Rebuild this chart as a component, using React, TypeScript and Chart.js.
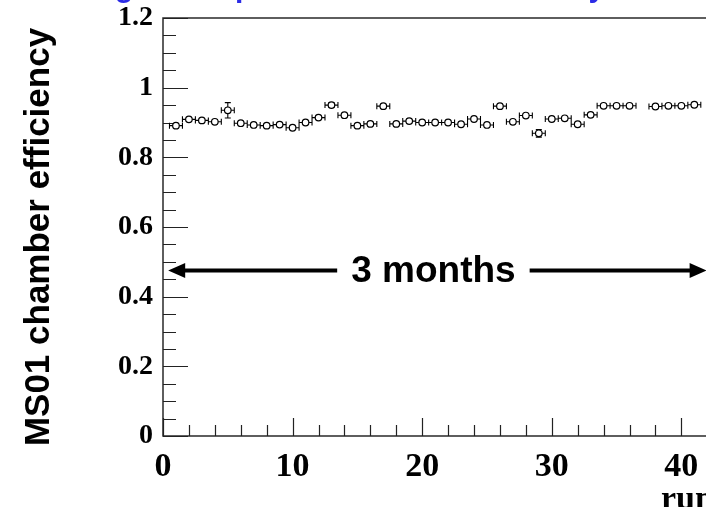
import React, { useEffect, useRef } from "react";
import { Chart, registerables } from "chart.js";

Chart.register(...registerables);

// ---- data ----
const runs = [
  1, 2, 3, 4, 5, 6, 7, 8, 9, 10,
  11, 12, 13, 14, 15, 16, 17, 18, 19, 20,
  21, 22, 23, 24, 25, 26, 27, 28, 29, 30,
  31, 32, 33, 34, 35, 36, 38, 39, 40, 41,
];
const efficiency = [
  0.891, 0.909, 0.906, 0.902, 0.935, 0.898, 0.893, 0.891, 0.894, 0.885,
  0.900, 0.914, 0.950, 0.921, 0.891, 0.896, 0.947, 0.896, 0.904, 0.900,
  0.900, 0.900, 0.895, 0.910, 0.893, 0.947, 0.902, 0.920, 0.869, 0.910,
  0.912, 0.895, 0.922, 0.948, 0.948, 0.948, 0.946, 0.948, 0.948, 0.951,
];
const efficiencyError = [
  0.005, 0.005, 0.005, 0.005, 0.022, 0.005, 0.005, 0.005, 0.005, 0.005,
  0.005, 0.005, 0.007, 0.005, 0.005, 0.005, 0.005, 0.005, 0.005, 0.005,
  0.005, 0.005, 0.005, 0.005, 0.005, 0.005, 0.005, 0.005, 0.011, 0.005,
  0.005, 0.005, 0.005, 0.005, 0.005, 0.005, 0.005, 0.005, 0.005, 0.005,
];
const runHalfWidth = 0.5;

const xTickValues = [0, 10, 20, 30, 40];
const yTickValues = [0, 0.2, 0.4, 0.6, 0.8, 1.0, 1.2];
const xRange = [0, 41.5];
const yRange = [0, 1.2];

const titleText = "Long-term operation: stable efficiency";
const yTitle = "MS01 chamber efficiency";
const xTitle = "run";
const spanLabel = "3 months";
const spanFrom = 0.4;
const spanTo = 41.95;
const spanLevel = 0.475;

const W = 706;
const H = 507;

const decorPlugin = {
  id: "decor",
  beforeDatasetsDraw(chart: any) {
    const { ctx, chartArea: a, scales } = chart;
    const xs = scales.x;
    const ys = scales.y;
    ctx.save();
    // frame
    ctx.strokeStyle = "#2a2a2a";
    ctx.lineWidth = 1.5;
    ctx.beginPath();
    ctx.moveTo(W + 2, a.top);
    ctx.lineTo(a.left, a.top);
    ctx.lineTo(a.left, a.bottom);
    ctx.lineTo(W + 2, a.bottom);
    ctx.stroke();

    // ticks
    ctx.lineWidth = 1.2;
    ctx.strokeStyle = "#222";
    ctx.beginPath();
    for (let v = 0; v <= xRange[1] + 1e-9; v += 2) {
      const px = Math.round(xs.getPixelForValue(v)) + 0.5;
      const len = Math.abs(v % 10) < 1e-9 ? 18 : 11;
      ctx.moveTo(px, a.bottom);
      ctx.lineTo(px, a.bottom - len);
    }
    for (let k = 0; k <= 24; k++) {
      const v = k * 0.05;
      const py = Math.round(ys.getPixelForValue(v)) + 0.5;
      const len = k % 4 === 0 ? 25 : 13;
      ctx.moveTo(a.left, py);
      ctx.lineTo(a.left + len, py);
    }
    ctx.stroke();

    // error bars
    ctx.strokeStyle = "#000";
    ctx.lineWidth = 1.1;
    const cap = 3;
    ctx.beginPath();
    runs.forEach((r, i) => {
      const x0 = xs.getPixelForValue(r - runHalfWidth);
      const x1 = xs.getPixelForValue(r + runHalfWidth);
      const px = xs.getPixelForValue(r);
      const py = ys.getPixelForValue(efficiency[i]);
      ctx.moveTo(x0, py);
      ctx.lineTo(x1, py);
      ctx.moveTo(x0, py - cap);
      ctx.lineTo(x0, py + cap);
      ctx.moveTo(x1, py - cap);
      ctx.lineTo(x1, py + cap);
      const yTop = ys.getPixelForValue(efficiency[i] + efficiencyError[i]);
      const yBot = ys.getPixelForValue(efficiency[i] - efficiencyError[i]);
      ctx.moveTo(px, yTop);
      ctx.lineTo(px, yBot);
      ctx.moveTo(px - cap, yTop);
      ctx.lineTo(px + cap, yTop);
      ctx.moveTo(px - cap, yBot);
      ctx.lineTo(px + cap, yBot);
    });
    ctx.stroke();
    ctx.restore();
  },
  afterDraw(chart: any) {
    const { ctx, scales } = chart;
    const xs = scales.x;
    const ys = scales.y;
    ctx.save();

    // span arrow with label
    const ay = ys.getPixelForValue(spanLevel);
    const xl = xs.getPixelForValue(spanFrom);
    const xr = xs.getPixelForValue(spanTo);
    const xc = (xl + xr) / 2 - 4;
    ctx.font = "bold 37px 'Liberation Sans', Arial, sans-serif";
    const tw = ctx.measureText(spanLabel).width;
    ctx.fillStyle = "#000";
    ctx.textAlign = "center";
    ctx.textBaseline = "alphabetic";
    ctx.fillText(spanLabel, xc, ay + 11);
    const gap = 14;
    const head = 17;
    const hh = 7.5;
    ctx.strokeStyle = "#000";
    ctx.lineWidth = 4;
    ctx.beginPath();
    ctx.moveTo(xl + head - 2, ay);
    ctx.lineTo(xc - tw / 2 - gap, ay);
    ctx.moveTo(xc + tw / 2 + gap, ay);
    ctx.lineTo(xr - head + 2, ay);
    ctx.stroke();
    ctx.beginPath();
    ctx.moveTo(xl, ay);
    ctx.lineTo(xl + head, ay - hh);
    ctx.lineTo(xl + head, ay + hh);
    ctx.closePath();
    ctx.moveTo(xr, ay);
    ctx.lineTo(xr - head, ay - hh);
    ctx.lineTo(xr - head, ay + hh);
    ctx.closePath();
    ctx.fill();

    // y-axis title
    ctx.save();
    ctx.translate(49, 237);
    ctx.rotate(-Math.PI / 2);
    ctx.font = "bold 35px 'Liberation Sans', Arial, sans-serif";
    ctx.textAlign = "center";
    ctx.textBaseline = "alphabetic";
    ctx.fillStyle = "#000";
    ctx.fillText(yTitle, 0, 0);
    ctx.restore();

    // x-axis title (cut by the page edge)
    ctx.font = "bold 34px 'Liberation Serif', 'Times New Roman', serif";
    ctx.textAlign = "left";
    ctx.textBaseline = "alphabetic";
    ctx.fillStyle = "#000";
    ctx.fillText(xTitle, 661, 509);

    // slide title (mostly above the page, only descenders visible)
    ctx.font = "bold 30px 'Liberation Sans', Arial, sans-serif";
    ctx.fillStyle = "#2b2be6";
    ctx.textAlign = "left";
    ctx.textBaseline = "alphabetic";
    ctx.fillText(titleText, 60, -3);

    ctx.restore();
  },
};

export default function App() {
  const ref = useRef<HTMLCanvasElement | null>(null);

  useEffect(() => {
    document.body.style.margin = "0";
    const canvas = ref.current;
    if (!canvas) return;
    const chart = new Chart(canvas, {
      type: "scatter",
      data: {
        datasets: [
          {
            label: "efficiency",
            data: runs.map((r, i) => ({ x: r, y: efficiency[i] })),
            pointStyle: "circle",
            pointRadius: 3.3,
            pointBackgroundColor: "#fff",
            pointBorderColor: "#000",
            pointBorderWidth: 1.2,
            showLine: false,
          },
        ],
      },
      options: {
        responsive: false,
        animation: false,
        events: [],
        layout: { padding: { top: 18, right: 0, left: 0, bottom: 0 } },
        plugins: {
          legend: { display: false },
          tooltip: { enabled: false },
          title: { display: false },
        },
        scales: {
          x: {
            type: "linear",
            min: xRange[0],
            max: xRange[1],
            grid: { display: false, drawTicks: false },
            border: { display: false },
            afterBuildTicks: (s: any) => {
              s.ticks = xTickValues.map((v) => ({ value: v }));
            },
            afterFit: (s: any) => {
              s.height = H - 436;
              s.paddingLeft = 0;
              s.paddingRight = 0;
            },
            ticks: {
              color: "#000",
              padding: 11,
              maxRotation: 0,
              autoSkip: false,
              font: { family: "'Liberation Serif', 'Times New Roman', serif", size: 34, weight: "bold" },
            },
          },
          y: {
            type: "linear",
            min: yRange[0],
            max: yRange[1],
            grid: { display: false, drawTicks: false },
            border: { display: false },
            afterBuildTicks: (s: any) => {
              s.ticks = yTickValues.map((v) => ({ value: v }));
            },
            afterFit: (s: any) => {
              s.width = 163;
              s.paddingTop = 0;
              s.paddingBottom = 0;
            },
            ticks: {
              color: "#000",
              padding: 10,
              autoSkip: false,
              callback: (v: any) => String(Math.round(Number(v) * 10) / 10),
              font: { family: "'Liberation Serif', 'Times New Roman', serif", size: 28, weight: "bold" },
            },
          },
        },
      },
      plugins: [decorPlugin],
    });
    return () => chart.destroy();
  }, []);

  return (
    <div style={{ position: "absolute", left: 0, top: 0, width: W, height: H, background: "#fff" }}>
      <canvas ref={ref} width={W} height={H} style={{ display: "block", width: W, height: H }} />
    </div>
  );
}
